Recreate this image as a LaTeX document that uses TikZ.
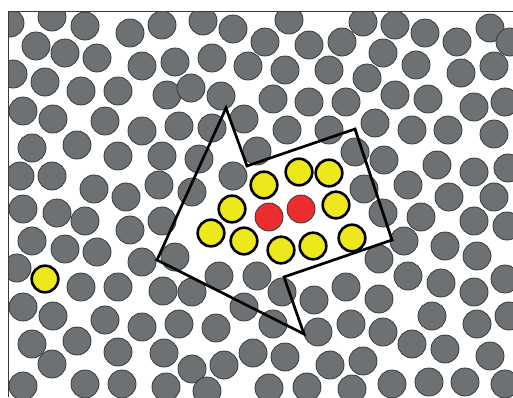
\documentclass[tikz,border=0pt]{standalone}
\definecolor{grayfill}{RGB}{110,113,115}
\definecolor{grayline}{RGB}{55,57,58}
\definecolor{yel}{RGB}{236,232,28}
\definecolor{redf}{RGB}{236,45,46}
\tikzset{
  gball/.style={fill=grayfill,draw=grayline,line width=0.8pt},
  yball/.style={fill=yel,draw=black,line width=2.6pt},
  rball/.style={fill=redf,draw=grayline,line width=0.8pt},
  outline/.style={draw=black,line width=2.7pt,line join=miter},
  frameline/.style={draw=grayline,line width=1pt}
}
\begin{document}
\begin{tikzpicture}[x=1pt,y=-1pt]
\useasboundingbox[fill=white] (0,0) rectangle (513,397);
\begin{scope}
\clip (8,11.5) rectangle (513,397);
\foreach \x/\y in {
10/23,52/17,85/26,130/33,162/25,
36/46,65/53,97/58,142/66,175/62,
13/74,45/82,81/91,118/91,167/95,
23/111,53/119,105/121,142/131,179/126,
32/148,77/145,118/156,162/156,
20/176,52/176,94/189,126/197,159/185,
23/209,57/213,85/221,130/230,162/221,
32/241,65/249,97/252,142/262,17/268,
81/287,118/287,163/291,
23/307,53/316,105/320,142/327,179/324,
32/344,77/341,118/352,164/353,
52/364,23/386,85/384,122/384,166/387,
203/21,233/29,265/42,289/20,309/45,342/42,
212/58,248/66,285/70,329/70,
191/88,221/96,273/99,309/102,346/102,
212/128,244/119,287/130,329/130,
257/151,199/159,233/176,192/192,175/257,
363/22,395/25,425/33,457/42,490/28,510/42,
383/53,416/65,461/73,494/66,
367/78,395/95,428/99,474/107,505/102,
375/123,412/130,448/130,494/134,
355/152,384/160,437/165,474/172,508/168,
408/185,364/189,449/197,494/197,
383/213,421/217,474/221,507/226,
404/241,445/246,477/256,379/259,
219/276,257/276,282/292,192/292,314/300,
244/307,273/324,216/328,318/332,
253/353,285/357,224/365,192/369,330/365,
207/391,269/388,307/387,
408/276,441/283,474/292,505/279,346/287,
379/299,432/316,477/324,509/316,351/324,
383/332,412/344,445/349,490/356,363/361,
392/384,429/382,465/382,505/384,352/389}
  \path[gball] (\x,\y) circle (14);
\foreach \x/\y in {264/185,299/172,329/173,232/209,336/205,211/233,244/241,281/250,313/246,352/238,45/279}
  \path[yball] (\x,\y) circle (13.3);
\foreach \x/\y in {269/217,301/209}
  \path[rball] (\x,\y) circle (14);
\end{scope}
\coordinate (p1) at (226,108);
\coordinate (p2) at (247,166);
\coordinate (p3) at (355,129);
\coordinate (p4) at (392,240);
\coordinate (p5) at (284,277);
\coordinate (p6) at (304,334);
\coordinate (p7) at (157,260);
\draw[outline] (p1) -- (p2) -- (p3) -- (p4) -- (p5) -- (p6) -- (p7) -- cycle;
\coordinate (f1) at (8,397);
\coordinate (f2) at (8,11.5);
\coordinate (f3) at (513,11.5);
\draw[frameline] (f1) -- (f2) -- (f3);
\end{tikzpicture}
\end{document}
